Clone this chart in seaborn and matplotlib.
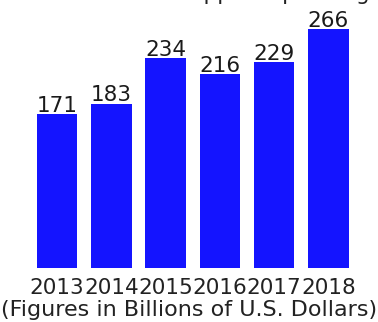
import matplotlib
matplotlib.use("Agg")
import matplotlib.pyplot as plt
import seaborn as sns
import pandas as pd

years = ["2013", "2014", "2015", "2016", "2017", "2018"]
values = [171, 183, 234, 216, 229, 266]
title_text = "Annual Social Support Spending"
subtitle_text = "(Figures in Billions of U.S. Dollars)"

sns.set_theme(style="white")
plt.rcParams["font.family"] = ["DejaVu Sans"]

FS = 15.5
W, H = 378, 322
fig = plt.figure(figsize=(W / 100, H / 100), dpi=100)
left, right, bottom, top = 29.85, 355.65, 268, 0
ax = fig.add_axes([left / W, 1 - bottom / H, (right - left) / W, (bottom - top) / H])

df = pd.DataFrame({"year": years, "value": values})
sns.barplot(data=df, x="year", y="value", color="#1414ff", saturation=1,
            width=0.745, linewidth=0, ax=ax)
ax.set_ylim(0, 268 / 0.8985)
ax.set_xlim(-0.5, len(years) - 0.5)

for i, v in enumerate(values):
    ax.annotate(str(v), (i, v), xytext=(0, 1.5), textcoords="offset points",
                ha="center", va="baseline", fontsize=FS, color="#1a1a1a")

ax.set_xlabel("")
ax.set_ylabel("")
ax.set_yticks([])
ax.tick_params(axis="x", length=0, pad=7.5, labelsize=FS, labelcolor="#222222")
for s in ax.spines.values():
    s.set_visible(False)

fig.text(0.5, 1 - 316 / H, subtitle_text, ha="center", va="baseline",
         fontsize=16, color="#222222")
fig.text(0.52, 1 - 0.3 / H, title_text, ha="center", va="baseline",
         fontsize=FS, color="#222222")

fig.savefig("out.png", dpi=100)
